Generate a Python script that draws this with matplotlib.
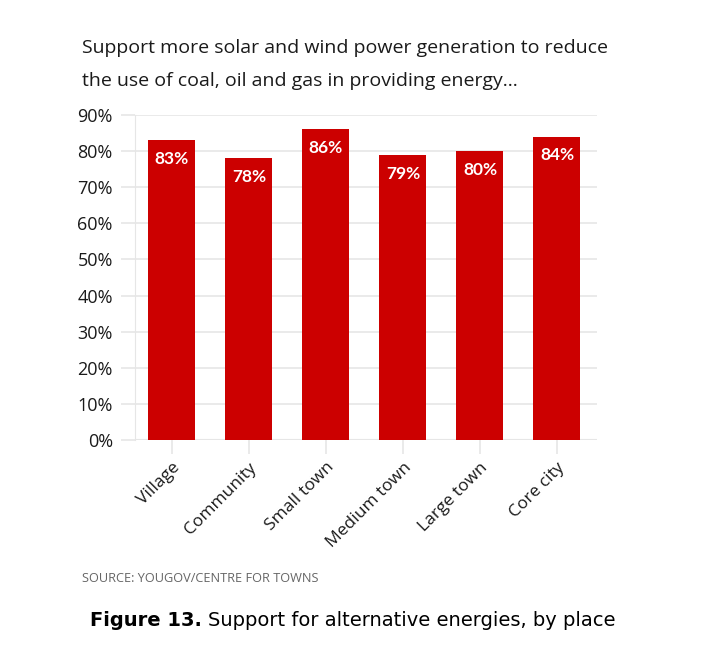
import matplotlib.pyplot as plt

# Dati
luoghi = ["Village", "Community", "Small town", "Medium town", "Large town", "Core city"]
supporto = [83, 78, 86, 79, 80, 84]
tick_y = [0, 10, 20, 30, 40, 50, 60, 70, 80, 90]

rosso = "#cc0000"
grigio = "#e6e6e6"
testo = "#1a1a1a"

fig = plt.figure(figsize=(7.2, 6.52), dpi=100)
ax = fig.add_axes([135 / 720, 1 - 440 / 652, (597 - 135) / 720, 325 / 652])

pos = list(range(len(luoghi)))
ax.bar(pos, supporto, width=0.61, color=rosso, zorder=3)

# Etichette valori dentro le barre
for x, v in zip(pos, supporto):
    ax.text(x, v - 3.0, f"{v}%", ha="center", va="top", color="white",
            fontsize=12.5, fontweight="bold", family="Lato", zorder=4)

ax.set_xlim(-0.48, 5.52)
ax.set_ylim(0, 90)
ax.set_yticks(tick_y)
ax.set_yticklabels([f"{t}%" for t in tick_y], fontsize=13, family="Open Sans",
                   color=testo, fontweight="medium")
ax.set_xticks(pos)
ax.set_xticklabels(luoghi, rotation=45, ha="right", rotation_mode="anchor",
                   fontsize=12.5, family="Open Sans", color=testo)

ax.grid(axis="y", color=grigio, linewidth=1.2, zorder=0)
for s in ["top", "right", "bottom"]:
    ax.spines[s].set_visible(False)
ax.spines["left"].set_color(grigio)
ax.axhline(0, color=grigio, linewidth=1.5, zorder=1)
ax.tick_params(axis="y", length=10, color=grigio, width=1.2, pad=6)
ax.tick_params(axis="x", length=10, color=grigio, width=1.2, pad=4)

# Titolo
fig.text(82 / 720, 1 - 48 / 652, "Support more solar and wind power generation to reduce",
         fontsize=14, family="Open Sans", color=testo, va="center", fontweight="medium")
fig.text(82 / 720, 1 - 81 / 652, "the use of coal, oil and gas in providing energy...",
         fontsize=14, family="Open Sans", color=testo, va="center", fontweight="medium")

# Fonte
fig.text(82 / 720, 1 - 578 / 652, "SOURCE: YOUGOV/CENTRE FOR TOWNS",
         fontsize=9.2, family="Open Sans", color="#666666", va="center")

# Didascalia
t1 = fig.text(90 / 720, 1 - 620 / 652, "Figure 13.", fontsize=14, fontweight="bold",
              family="DejaVu Sans", color="black", va="center")
fig.canvas.draw()
bb = t1.get_window_extent()
fig.text(bb.x1 / 720 + 6 / 720, 1 - 620 / 652, "Support for alternative energies, by place",
         fontsize=14, family="DejaVu Sans", color="black", va="center")

fig.savefig("out.png", dpi=100)
